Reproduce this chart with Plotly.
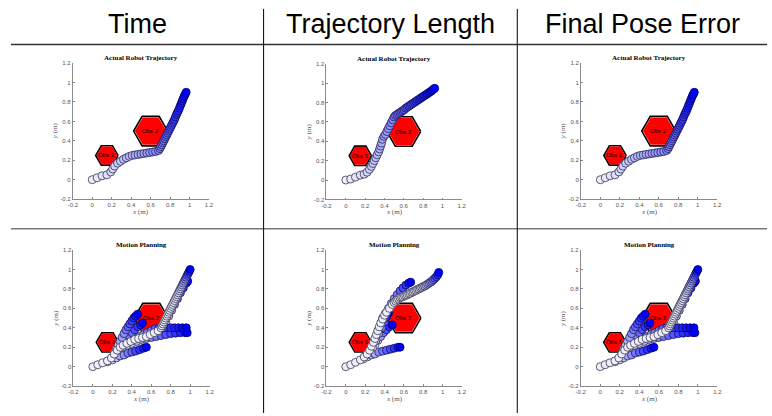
import plotly.graph_objects as go
import math

# ---------------- data ----------------
HEADERS = ["Time", "Trajectory Length", "Final Pose Error"]
TITLE_TOP = "Actual Robot Trajectory"
TITLE_BOTTOM = "Motion Planning"
TICK_VALS = [-0.2, 0, 0.2, 0.4, 0.6, 0.8, 1, 1.2]
TICK_TEXT = ["-0.2", "0", "0.2", "0.4", "0.6", "0.8", "1", "1.2"]

OBS_X = [0.15, 0.60]
OBS_Y = [0.25, 0.50]
OBS_R = [0.115, 0.175]
OBS_NAMES = ["Obs 1", "Obs 2"]

# Actual trajectory, "Time" (also Final Pose Error)
TIME_ACT_X = [0.00, 0.05, 0.10, 0.15, 0.19, 0.21, 0.23, 0.26, 0.29, 0.32, 0.35, 0.38, 0.41, 0.44,
              0.47, 0.50, 0.53, 0.56, 0.59, 0.62, 0.65, 0.68, 0.695, 0.705, 0.715, 0.725, 0.735,
              0.745, 0.755, 0.765, 0.775, 0.785, 0.795, 0.805, 0.815, 0.825, 0.835, 0.845, 0.855,
              0.865, 0.875, 0.885, 0.895, 0.905, 0.915, 0.925, 0.935, 0.945, 0.955, 0.965]
TIME_ACT_Y = [0.00, 0.02, 0.04, 0.05, 0.08, 0.11, 0.14, 0.17, 0.19, 0.21, 0.225, 0.24, 0.25, 0.255,
              0.26, 0.265, 0.27, 0.275, 0.28, 0.285, 0.29, 0.30, 0.32, 0.34, 0.36, 0.38, 0.40,
              0.42, 0.44, 0.46, 0.48, 0.50, 0.52, 0.54, 0.56, 0.58, 0.60, 0.62, 0.645,
              0.67, 0.69, 0.71, 0.735, 0.76, 0.785, 0.81, 0.835, 0.86, 0.88, 0.90]

# Actual trajectory, "Trajectory Length"
LEN_ACT_X = [0.00, 0.05, 0.10, 0.15, 0.19, 0.22, 0.245, 0.265, 0.28, 0.295, 0.31, 0.325, 0.34, 0.35,
             0.36, 0.37, 0.38, 0.395, 0.41, 0.425, 0.44, 0.455, 0.47, 0.485, 0.50, 0.515, 0.53,
             0.545, 0.56, 0.575, 0.59, 0.605, 0.62, 0.635, 0.65, 0.665, 0.68, 0.695, 0.71, 0.725,
             0.74, 0.755, 0.77, 0.785, 0.80, 0.815, 0.83, 0.845, 0.86, 0.875, 0.89, 0.905, 0.92]
LEN_ACT_Y = [0.00, 0.01, 0.03, 0.05, 0.06, 0.08, 0.11, 0.14, 0.17, 0.20, 0.23, 0.26, 0.29, 0.32,
             0.35, 0.38, 0.42, 0.45, 0.47, 0.50, 0.53, 0.56, 0.59, 0.62, 0.65, 0.665, 0.675,
             0.685, 0.695, 0.705, 0.715, 0.725, 0.74, 0.75, 0.76, 0.77, 0.78, 0.79, 0.80, 0.81,
             0.82, 0.83, 0.84, 0.85, 0.86, 0.87, 0.88, 0.89, 0.90, 0.91, 0.92, 0.935, 0.945]

# Motion planning, "Time" (also Final Pose Error)
TIME_MAIN_X = [0.00, 0.05, 0.10, 0.15, 0.19, 0.22, 0.25, 0.28, 0.31, 0.35, 0.39, 0.43, 0.47, 0.51,
               0.55, 0.59, 0.63, 0.67, 0.70, 0.71, 0.72, 0.73, 0.74, 0.75, 0.76, 0.77, 0.78, 0.79,
               0.80, 0.81, 0.82, 0.83, 0.84, 0.85, 0.86, 0.87, 0.88, 0.89, 0.90, 0.91, 0.92, 0.93,
               0.94, 0.95, 0.96, 0.97, 0.98, 0.99, 1.00]
TIME_MAIN_Y = [0.00, 0.02, 0.04, 0.06, 0.09, 0.13, 0.17, 0.20, 0.22, 0.24, 0.26, 0.28, 0.29, 0.30,
               0.31, 0.33, 0.35, 0.37, 0.40, 0.42, 0.44, 0.46, 0.48, 0.50, 0.52, 0.54, 0.56, 0.58,
               0.60, 0.62, 0.64, 0.66, 0.68, 0.70, 0.72, 0.74, 0.76, 0.78, 0.80, 0.82, 0.84, 0.86,
               0.88, 0.90, 0.92, 0.94, 0.96, 0.98, 1.00]
TIME_P1_X = [0.22, 0.24, 0.26, 0.28, 0.30, 0.32, 0.34, 0.36, 0.38, 0.40, 0.42, 0.44, 0.46]
TIME_P1_Y = [0.14, 0.18, 0.22, 0.26, 0.30, 0.34, 0.38, 0.41, 0.44, 0.47, 0.50, 0.52, 0.54]
TIME_P2_X = [0.25, 0.28, 0.31, 0.34, 0.37, 0.40, 0.43, 0.46, 0.49, 0.51]
TIME_P2_Y = [0.17, 0.21, 0.25, 0.29, 0.32, 0.35, 0.38, 0.41, 0.43, 0.45]
TIME_P3_X = [0.40, 0.44, 0.48, 0.52, 0.56, 0.60, 0.64, 0.68, 0.72, 0.76, 0.80, 0.84, 0.88, 0.92, 0.96]
TIME_P3_Y = [0.27, 0.29, 0.31, 0.33, 0.35, 0.37, 0.39, 0.40, 0.40, 0.40, 0.40, 0.40, 0.40, 0.40, 0.40]
TIME_P4_X = [0.30, 0.35, 0.40, 0.45, 0.50, 0.55, 0.60, 0.65, 0.70, 0.75, 0.80, 0.85, 0.90, 0.95, 0.97]
TIME_P4_Y = [0.20, 0.22, 0.24, 0.26, 0.28, 0.29, 0.30, 0.31, 0.32, 0.33, 0.34, 0.345, 0.35, 0.35, 0.35]
TIME_P5_X = [0.15, 0.20, 0.24, 0.28, 0.32, 0.36, 0.40, 0.44, 0.48, 0.52, 0.55]
TIME_P5_Y = [0.05, 0.07, 0.09, 0.11, 0.12, 0.14, 0.15, 0.16, 0.175, 0.19, 0.20]
TIME_P6_X = [0.72, 0.75, 0.78, 0.81, 0.84, 0.87, 0.90, 0.93, 0.96, 0.975]
TIME_P6_Y = [0.40, 0.46, 0.52, 0.58, 0.64, 0.70, 0.76, 0.81, 0.86, 0.88]

# Motion planning, "Trajectory Length"
LEN_MAIN_X = [0.00, 0.05, 0.10, 0.15, 0.19, 0.22, 0.245, 0.265, 0.285, 0.30, 0.315, 0.33, 0.345,
              0.36, 0.38, 0.40, 0.42, 0.45, 0.48, 0.50, 0.515, 0.53, 0.545, 0.56, 0.575, 0.59,
              0.605, 0.62, 0.635, 0.65, 0.665, 0.68, 0.695, 0.71, 0.725, 0.74, 0.755, 0.77,
              0.785, 0.80, 0.815, 0.83, 0.845, 0.86, 0.875, 0.89, 0.905, 0.92, 0.935, 0.95, 0.96]
LEN_MAIN_Y = [0.00, 0.02, 0.045, 0.07, 0.10, 0.13, 0.17, 0.21, 0.25, 0.29, 0.33, 0.37, 0.41,
              0.45, 0.49, 0.53, 0.56, 0.60, 0.64, 0.66, 0.675, 0.69, 0.70, 0.71, 0.715, 0.72,
              0.73, 0.735, 0.74, 0.75, 0.755, 0.765, 0.77, 0.78, 0.785, 0.795, 0.80, 0.81,
              0.815, 0.825, 0.83, 0.84, 0.85, 0.86, 0.87, 0.88, 0.895, 0.91, 0.925, 0.945, 0.97]
LEN_P1_X = [0.38, 0.41, 0.44, 0.47, 0.50, 0.53, 0.56, 0.59, 0.62, 0.65, 0.67]
LEN_P1_Y = [0.50, 0.55, 0.60, 0.65, 0.70, 0.74, 0.78, 0.81, 0.84, 0.86, 0.87]
LEN_P2_X = [0.28, 0.31, 0.34, 0.37, 0.40, 0.42, 0.44]
LEN_P2_Y = [0.20, 0.27, 0.34, 0.40, 0.46, 0.51, 0.55]
LEN_P3_X = [0.30, 0.33, 0.36, 0.39, 0.42, 0.45, 0.48]
LEN_P3_Y = [0.22, 0.27, 0.31, 0.35, 0.38, 0.41, 0.43]
LEN_P4_X = [0.18, 0.22, 0.26, 0.30, 0.34, 0.38, 0.42, 0.46, 0.50, 0.54, 0.56]
LEN_P4_Y = [0.08, 0.10, 0.12, 0.13, 0.15, 0.16, 0.17, 0.18, 0.19, 0.20, 0.20]

# ---------------- layout helpers ----------------
W, H = 772, 416
BOXES = [(68.7, 206.7, 61, 199), (325.7, 462.7, 61.5, 199.3), (583.5, 721.5, 61, 199),
         (69.3, 207.3, 250.7, 388.7), (325.7, 463, 250.7, 388.7), (583.3, 721.7, 250.7, 388.7)]

def lerp(a, b, t):
    return a + (b - a) * t

def fill_col(t):
    v = int(round(lerp(238, 0, t)))
    return f"rgb({v},{v},255)"

def edge_col(t):
    v = int(round(lerp(55, 0, t)))
    b = int(round(lerp(70, 100, t)))
    return f"rgb({v},{v},{b})"

fig = go.Figure()

def add_traj(i, xs, ys, power=1.0):
    n = len(xs)
    ts = [(k / (n - 1)) ** power if n > 1 else 1 for k in range(n)]
    fig.add_trace(go.Scatter(
        x=xs, y=ys, mode="markers", xaxis=f"x{i}", yaxis=f"y{i}", showlegend=False,
        hoverinfo="skip",
        marker=dict(size=8, color=[fill_col(t) for t in ts],
                    line=dict(width=0.8, color=[edge_col(t) for t in ts]))))

annotations = []

def ann(**kw):
    d = dict(showarrow=False, xanchor="center", yanchor="middle")
    d.update(kw)
    annotations.append(d)

def add_obstacles(i):
    for cx, cy, r, name in zip(OBS_X, OBS_Y, OBS_R, OBS_NAMES):
        ang = [math.radians(60 * k) for k in range(7)]
        fig.add_trace(go.Scatter(
            x=[cx + r * math.cos(a) for a in ang], y=[cy + r * math.sin(a) for a in ang],
            mode="lines", fill="toself", fillcolor="white", line=dict(color="black", width=1.6),
            xaxis=f"x{i}", yaxis=f"y{i}", showlegend=False, hoverinfo="skip"))
        ri = r * 0.93
        fig.add_trace(go.Scatter(
            x=[cx + ri * math.cos(a) for a in ang], y=[cy + ri * math.sin(a) for a in ang],
            mode="lines", fill="toself", fillcolor="#ff0000", line=dict(color="#ff0000", width=0),
            xaxis=f"x{i}", yaxis=f"y{i}", showlegend=False, hoverinfo="skip"))
        ann(x=cx, y=cy, xref=f"x{i}", yref=f"y{i}", text=name,
            font=dict(family="Liberation Sans", size=6, color="black"))

panels = [
    [(TIME_ACT_X, TIME_ACT_Y, 1.0)],
    [(LEN_ACT_X, LEN_ACT_Y, 1.0)],
    [(TIME_ACT_X, TIME_ACT_Y, 1.0)],
    [(TIME_P6_X, TIME_P6_Y, 1.0), (TIME_P5_X, TIME_P5_Y, 1.0), (TIME_P4_X, TIME_P4_Y, 1.0),
     (TIME_P3_X, TIME_P3_Y, 0.6), (TIME_P2_X, TIME_P2_Y, 1.0), (TIME_P1_X, TIME_P1_Y, 1.0),
     (TIME_MAIN_X, TIME_MAIN_Y, 8.0)],
    [(LEN_P4_X, LEN_P4_Y, 1.0), (LEN_P3_X, LEN_P3_Y, 1.0), (LEN_P2_X, LEN_P2_Y, 1.0),
     (LEN_P1_X, LEN_P1_Y, 1.0), (LEN_MAIN_X, LEN_MAIN_Y, 8.0)],
    [(TIME_P6_X, TIME_P6_Y, 1.0), (TIME_P5_X, TIME_P5_Y, 1.0), (TIME_P4_X, TIME_P4_Y, 1.0),
     (TIME_P3_X, TIME_P3_Y, 0.6), (TIME_P2_X, TIME_P2_Y, 1.0), (TIME_P1_X, TIME_P1_Y, 1.0),
     (TIME_MAIN_X, TIME_MAIN_Y, 8.0)],
]

layout_axes = {}
for idx, (x0, x1, y0, y1) in enumerate(BOXES):
    i = idx + 1
    add_obstacles(i)
    for xs, ys, pw in panels[idx]:
        add_traj(i, xs, ys, pw)
    ax = dict(range=[-0.2, 1.2], tickvals=TICK_VALS, ticktext=TICK_TEXT, showgrid=False,
              zeroline=False, showline=True, linecolor="#8a8a8a", linewidth=0.8,
              ticks="inside", ticklen=2, tickcolor="#8a8a8a",
              tickfont=dict(family="Liberation Sans", size=6, color="#555555"), fixedrange=True)
    layout_axes[f"xaxis{i}"] = dict(ax, domain=[x0 / W, x1 / W], anchor=f"y{i}")
    layout_axes[f"yaxis{i}"] = dict(ax, domain=[1 - y1 / H, 1 - y0 / H], anchor=f"x{i}")
    title = TITLE_TOP if idx < 3 else TITLE_BOTTOM
    cx = (x0 + x1) / 2
    ann(x=cx / W, y=1 - (y0 - 5) / H, xref="paper", yref="paper",
        text=f"<b>{title}</b>", font=dict(family="Liberation Serif", size=7, color="black"))
    ann(x=cx / W, y=1 - (y1 + 13) / H, xref="paper", yref="paper",
        text="<i>x</i> (m)", font=dict(family="Liberation Serif", size=7, color="#555555"))
    ann(x=(x0 - 18) / W, y=1 - (y0 + y1) / 2 / H, xref="paper", yref="paper",
        text="<i>y</i> (m)", textangle=-90,
        font=dict(family="Liberation Serif", size=7, color="#555555"))

for h, cx in zip(HEADERS, [134, 391, 646]):
    ann(x=cx / W, y=1 - 21 / H, xref="paper", yref="paper", text=h,
        font=dict(family="Liberation Sans", size=27, color="black"))

shapes = [
    dict(type="line", xref="paper", yref="paper", x0=6 / W, x1=1, y0=1 - 42 / H, y1=1 - 42 / H,
         line=dict(color="#333333", width=1.5)),
    dict(type="line", xref="paper", yref="paper", x0=6 / W, x1=1, y0=1 - 229 / H, y1=1 - 229 / H,
         line=dict(color="#7a7a7a", width=1.5)),
    dict(type="line", xref="paper", yref="paper", x0=262 / W, x1=262 / W, y0=0, y1=1 - 6 / H,
         line=dict(color="black", width=1)),
    dict(type="line", xref="paper", yref="paper", x0=519 / W, x1=519 / W, y0=0, y1=1 - 6 / H,
         line=dict(color="black", width=1)),
]

fig.update_layout(width=W, height=H, margin=dict(l=0, r=0, t=0, b=0),
                  paper_bgcolor="white", plot_bgcolor="white",
                  annotations=annotations, shapes=shapes, **layout_axes)
fig.write_html("out.html", config={"displayModeBar": False},
               post_script="document.body.style.margin='0px';"
                           "document.body.style.overflow='hidden';")
